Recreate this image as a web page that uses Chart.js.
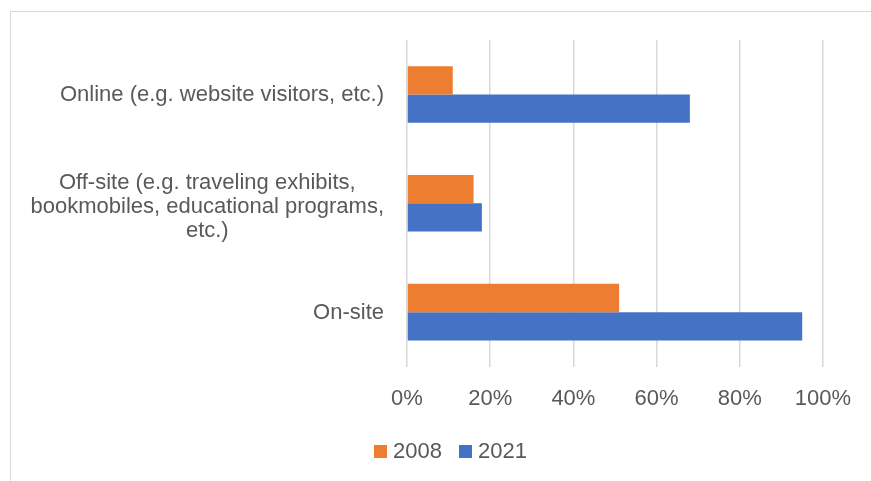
<!DOCTYPE html>
<html lang="en">
<head>
    <meta charset="UTF-8">
    <title>Visitors by channel</title>
    <script src="https://cdn.jsdelivr.net/npm/chart.js"></script>
    <style>
        * { box-sizing: border-box; margin: 0; padding: 0; }
        body { background: white; width: 871px; height: 481px; overflow: hidden; position: relative;
               font-family: "Liberation Sans", Arial, sans-serif; color: #595959; }
        .frame { position: absolute; left: 10px; top: 11px; width: 900px; height: 520px; border: 1px solid #d9d9d9; }
        .chart-box { position: absolute; left: 0; top: 0; width: 871px; height: 481px; }
        .legend { position: absolute; left: 374px; top: 437px; display: flex; gap: 17px; font-size: 22px; line-height: 28px; }
        .legend-item { display: flex; align-items: center; gap: 6px; }
        .legend-swatch { width: 13px; height: 13px; }
    </style>
</head>
<body>
    <div class="frame"></div>
    <div class="chart-box"><canvas id="chart"></canvas></div>
    <div class="legend" id="legend"></div>

    <script>
        // Data
        const categories = [
            'Online (e.g. website visitors, etc.)',
            ['Off-site (e.g. traveling exhibits,', 'bookmobiles, educational programs,', 'etc.)'],
            'On-site'
        ];
        const seriesNames = ['2008', '2021'];
        const values2008 = [11, 16, 51];
        const values2021 = [68, 18, 95];
        const xTicks = [0, 20, 40, 60, 80, 100];

        const seriesColors = ['#ED7D31', '#4472C4'];
        const textColor = '#595959';
        const fontFamily = '"Liberation Sans", Arial, sans-serif';

        // Category labels: block right-aligned against the axis, lines centred inside it
        const categoryLabels = {
            id: 'categoryLabels',
            afterDraw(chart) {
                const ctx = chart.ctx;
                const yScale = chart.scales.y;
                const right = yScale.right - 23;
                const lineH = 24;
                ctx.save();
                ctx.font = '22px ' + fontFamily;
                ctx.fillStyle = textColor;
                ctx.textAlign = 'center';
                ctx.textBaseline = 'middle';
                categories.forEach((label, i) => {
                    const lines = Array.isArray(label) ? label : [label];
                    const widest = Math.max(...lines.map(l => ctx.measureText(l).width));
                    const cx = right - widest / 2;
                    const cy = yScale.getPixelForValue(i) + (lines.length > 1 ? 4 : 1);
                    const top = cy - (lines.length - 1) * lineH / 2;
                    lines.forEach((l, j) => ctx.fillText(l, cx, top + j * lineH));
                });
                ctx.restore();
            }
        };

        const chart = new Chart(document.getElementById('chart'), {
            type: 'bar',
            data: {
                labels: categories,
                datasets: [
                    { label: seriesNames[0], data: values2008, backgroundColor: seriesColors[0] },
                    { label: seriesNames[1], data: values2021, backgroundColor: seriesColors[1] }
                ]
            },
            options: {
                indexAxis: 'y',
                responsive: true,
                maintainAspectRatio: false,
                animation: false,
                layout: { padding: { left: 10, right: 48, top: 40, bottom: 50 } },
                datasets: { bar: { categoryPercentage: 0.52, barPercentage: 1 } },
                scales: {
                    x: {
                        min: 0, max: 100,
                        afterBuildTicks: function(scale) {
                            scale.ticks = xTicks.map(v => ({ value: v }));
                        },
                        grid: { color: '#d9d9d9', lineWidth: 1.5, drawTicks: false },
                        border: { display: false },
                        ticks: {
                            color: textColor,
                            font: { family: fontFamily, size: 22 },
                            padding: 19,
                            callback: v => v + '%'
                        }
                    },
                    y: {
                        grid: { display: false },
                        border: { display: false },
                        afterFit: function(scale) { scale.width = 397; },
                        ticks: { display: false }
                    }
                },
                plugins: {
                    tooltip: { enabled: false },
                    legend: { display: false }
                }
            },
            plugins: [categoryLabels]
        });

        // Legend built from the chart's datasets
        const legendEl = document.getElementById('legend');
        chart.data.datasets.forEach(ds => {
            const item = document.createElement('div');
            item.className = 'legend-item';
            item.innerHTML = '<span class="legend-swatch" style="background:' + ds.backgroundColor + '"></span><span>' + ds.label + '</span>';
            legendEl.appendChild(item);
        });
    </script>
</body>
</html>
